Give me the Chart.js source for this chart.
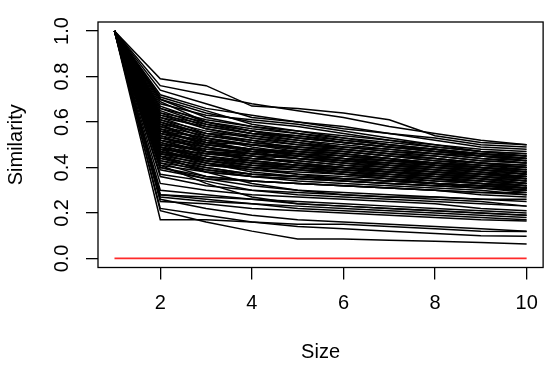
<!DOCTYPE html>
<html><head><meta charset="utf-8">
<script src="https://cdn.jsdelivr.net/npm/chart.js@4/dist/chart.umd.min.js"></script>
<style>html,body{margin:0;padding:0;background:#fff}#wrap{width:550px;height:365px}</style>
</head><body><div id="wrap"><canvas id="c" width="550" height="365"></canvas></div>
<script>
const sizes = [1, 2, 3, 4, 5, 6, 7, 8, 9, 10];
const xTicks = [2, 4, 6, 8, 10];
const yTicks = [0, 0.2, 0.4, 0.6, 0.8, 1.0];
const yTickLabels = ['0.0', '0.2', '0.4', '0.6', '0.8', '1.0'];
const baseline = [0, 0, 0, 0, 0, 0, 0, 0, 0, 0];
const similarity = [
  [1, .79, .76, .67, .66, .64, .61, .54, .51, .50],
  [1, .76, .72, .68, .65, .62, .58, .55, .52, .50],
  [1, .74, .68, .62, .60, .58, .55, .52, .49, .48],
  [1, .72, .66, .63, .60, .57, .55, .53, .50, .49],
  [1, .71, .65, .59, .56, .53, .50, .48, .46, .44],
  [1, .70, .64, .60, .58, .55, .52, .50, .48, .47],
  [1, .70, .62, .58, .56, .54, .52, .49, .47, .46],
  [1, .69, .60, .56, .53, .51, .49, .48, .46, .45],
  [1, .68, .63, .61, .59, .56, .53, .50, .47, .45],
  [1, .67, .60, .57, .55, .53, .51, .49, .47, .46],
  [1, .66, .61, .58, .55, .52, .50, .48, .46, .44],
  [1, .66, .59, .55, .53, .51, .49, .47, .45, .44],
  [1, .65, .58, .55, .54, .52, .50, .48, .45, .43],
  [1, .64, .60, .56, .53, .51, .49, .47, .45, .44],
  [1, .64, .57, .53, .50, .48, .46, .44, .42, .41],
  [1, .63, .57, .54, .52, .50, .48, .46, .45, .43],
  [1, .63, .59, .56, .54, .51, .49, .47, .46, .45],
  [1, .62, .58, .55, .52, .49, .47, .45, .43, .42],
  [1, .62, .55, .52, .50, .49, .47, .46, .44, .42],
  [1, .61, .56, .53, .51, .48, .46, .44, .42, .41],
  [1, .61, .54, .51, .49, .47, .45, .43, .41, .40],
  [1, .60, .55, .54, .51, .49, .48, .46, .44, .43],
  [1, .60, .53, .50, .48, .47, .45, .44, .42, .40],
  [1, .59, .55, .51, .49, .47, .45, .43, .42, .40],
  [1, .59, .51, .48, .47, .46, .44, .42, .40, .39],
  [1, .58, .52, .50, .49, .48, .46, .45, .43, .42],
  [1, .58, .54, .52, .48, .46, .44, .42, .40, .39],
  [1, .57, .50, .48, .47, .45, .44, .42, .41, .39],
  [1, .57, .53, .50, .47, .45, .43, .42, .41, .40],
  [1, .56, .53, .49, .46, .45, .43, .41, .40, .38],
  [1, .56, .50, .47, .46, .44, .43, .42, .40, .38],
  [1, .56, .51, .48, .45, .43, .42, .40, .38, .37],
  [1, .55, .51, .50, .48, .46, .44, .41, .39, .37],
  [1, .55, .49, .46, .45, .44, .42, .40, .39, .37],
  [1, .55, .52, .47, .44, .42, .40, .38, .37, .36],
  [1, .54, .50, .48, .45, .43, .41, .40, .38, .36],
  [1, .54, .47, .45, .44, .43, .42, .41, .40, .38],
  [1, .53, .49, .46, .44, .42, .40, .39, .37, .36],
  [1, .53, .48, .47, .46, .44, .41, .39, .38, .35],
  [1, .53, .50, .48, .46, .44, .43, .41, .39, .38],
  [1, .52, .46, .44, .43, .41, .40, .38, .36, .35],
  [1, .52, .49, .45, .42, .40, .39, .37, .36, .34],
  [1, .52, .47, .43, .41, .39, .38, .37, .36, .35],
  [1, .51, .47, .46, .44, .42, .41, .39, .37, .35],
  [1, .51, .45, .43, .41, .40, .38, .37, .35, .33],
  [1, .50, .47, .44, .43, .41, .39, .38, .36, .34],
  [1, .50, .44, .42, .41, .40, .38, .36, .35, .33],
  [1, .50, .48, .46, .45, .43, .41, .40, .39, .37],
  [1, .49, .46, .45, .42, .40, .38, .36, .34, .32],
  [1, .49, .43, .41, .40, .39, .38, .37, .35, .34],
  [1, .49, .44, .41, .39, .38, .37, .36, .35, .33],
  [1, .48, .45, .42, .40, .38, .37, .35, .34, .32],
  [1, .48, .42, .40, .39, .37, .36, .35, .33, .31],
  [1, .48, .46, .44, .42, .40, .39, .38, .37, .36],
  [1, .47, .44, .43, .41, .39, .37, .35, .33, .31],
  [1, .47, .42, .39, .38, .37, .35, .34, .33, .32],
  [1, .47, .43, .41, .40, .38, .36, .34, .33, .32],
  [1, .46, .43, .40, .37, .36, .35, .33, .32, .30],
  [1, .46, .41, .40, .39, .37, .35, .33, .31, .30],
  [1, .46, .44, .42, .40, .38, .36, .35, .34, .33],
  [1, .45, .42, .38, .36, .35, .34, .33, .32, .31],
  [1, .45, .40, .37, .36, .34, .33, .32, .31, .29],
  [1, .45, .38, .33, .30, .28, .27, .26, .25, .23],
  [1, .44, .41, .39, .37, .35, .34, .33, .32, .31],
  [1, .44, .39, .36, .35, .34, .33, .32, .31, .30],
  [1, .43, .40, .37, .36, .35, .34, .33, .32, .31],
  [1, .43, .38, .36, .35, .34, .33, .32, .31, .30],
  [1, .42, .39, .37, .36, .35, .34, .33, .32, .31],
  [1, .42, .36, .34, .33, .32, .31, .30, .29, .29],
  [1, .41, .38, .36, .34, .33, .32, .31, .30, .28],
  [1, .41, .33, .27, .24, .23, .22, .21, .20, .19],
  [1, .40, .36, .34, .33, .32, .31, .30, .29, .28],
  [1, .40, .35, .34, .33, .32, .31, .30, .28, .27],
  [1, .39, .35, .32, .30, .29, .28, .27, .26, .26],
  [1, .37, .34, .30, .28, .27, .26, .25, .24, .23],
  [1, .36, .32, .30, .29, .28, .27, .27, .26, .25],
  [1, .33, .30, .28, .27, .26, .25, .24, .22, .21],
  [1, .30, .28, .26, .24, .23, .22, .21, .20, .19],
  [1, .28, .27, .26, .25, .24, .23, .22, .21, .20],
  [1, .28, .26, .24, .22, .21, .20, .19, .18, .17],
  [1, .27, .25, .24, .23, .22, .21, .20, .19, .18],
  [1, .26, .22, .19, .17, .16, .15, .14, .13, .12],
  [1, .25, .24, .22, .21, .20, .19, .18, .17, .165],
  [1, .22, .19, .16, .14, .13, .12, .11, .10, .097],
  [1, .21, .16, .12, .085, .085, .08, .075, .07, .063],
  [1, .17, .17, .16, .15, .15, .14, .13, .12, .118]
];

const toPts = arr => sizes.map((x, i) => ({x: x, y: arr[i]}));
const datasets = similarity.map(s => ({
  data: toPts(s), borderColor: '#000', borderWidth: 1.5,
  pointRadius: 0, fill: false, tension: 0
}));
datasets.push({data: toPts(baseline), borderColor: '#ff2a2a', borderWidth: 1.6, pointRadius: 0, fill: false, tension: 0});

const boxPlugin = {
  id: 'rbox',
  afterDraw(chart) {
    const {ctx, chartArea: a} = chart;
    ctx.save();
    ctx.strokeStyle = '#000';
    ctx.lineWidth = 1.3;
    ctx.strokeRect(a.left, a.top, a.right - a.left, a.bottom - a.top);
    ctx.restore();
  }
};

const FONT = "'Liberation Sans', Arial, sans-serif";
new Chart(document.getElementById('c'), {
  type: 'line',
  data: {datasets: datasets},
  plugins: [boxPlugin],
  options: {
    responsive: false, animation: false, devicePixelRatio: 1,
    layout: {padding: {top: 11.5, right: 6.5, left: 0, bottom: 0}},
    plugins: {legend: {display: false}, tooltip: {enabled: false}},
    scales: {
      x: {
        type: 'linear', min: 0.64, max: 10.36,
        afterBuildTicks: s => { s.ticks = xTicks.map(v => ({value: v})); },
        afterFit: s => { s.height = 97.5; },
        border: {display: false},
        grid: {drawOnChartArea: false, drawTicks: true, tickLength: 12, color: '#000', lineWidth: 1.3},
        ticks: {color: '#000', font: {family: FONT, size: 20}, padding: 12, maxRotation: 0, autoSkip: false,
                callback: v => String(v)},
        title: {display: true, text: 'Size', color: '#000', font: {family: FONT, size: 20, lineHeight: 1.3}, padding: 0}
      },
      y: {
        type: 'linear', min: -0.04, max: 1.04,
        afterBuildTicks: s => { s.ticks = yTicks.map(v => ({value: v})); },
        afterFit: s => { s.width = 98; },
        border: {display: false},
        grid: {drawOnChartArea: false, drawTicks: true, tickLength: 12, color: '#000', lineWidth: 1.3},
        ticks: {color: '#000', font: {family: FONT, size: 20}, padding: 10, minRotation: 90, maxRotation: 90,
                crossAlign: 'center', autoSkip: false,
                callback: (v, i) => yTickLabels[yTicks.indexOf(v)] !== undefined ? yTickLabels[yTicks.indexOf(v)] : ''},
        title: {display: true, text: 'Similarity', color: '#000', font: {family: FONT, size: 20, lineHeight: 1.3}, padding: {top: 3, bottom: 0}}
      }
    }
  }
});
</script></body></html>
